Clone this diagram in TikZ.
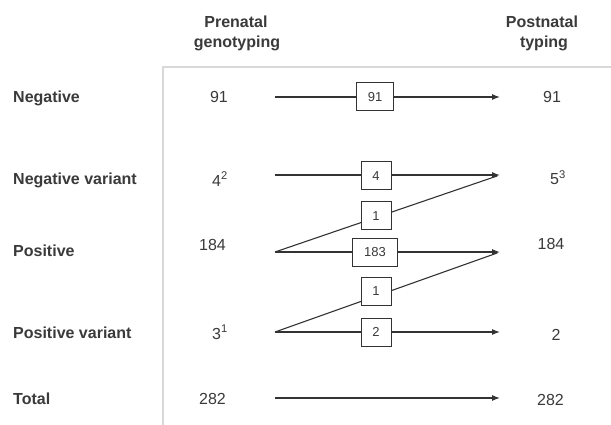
\documentclass[tikz,border=0pt]{standalone}
\usepackage{fontspec}
\setmainfont{Liberation Sans}
\usetikzlibrary{arrows.meta}
\definecolor{txt}{HTML}{3A3A3A}
\definecolor{ln}{HTML}{333333}
\definecolor{framec}{HTML}{D8D8D8}
\begin{document}
\begin{tikzpicture}[x=1pt,y=-1pt,
  lbl/.style={font=\fontsize{16}{20}\selectfont\bfseries, text=txt, anchor=base west, inner sep=0pt},
  hdr/.style={font=\fontsize{16}{20}\selectfont\bfseries, text=txt, anchor=base, inner sep=0pt},
  num/.style={font=\fontsize{16}{20}\selectfont, text=txt, anchor=base, inner sep=0pt},
  lnum/.style={num, anchor=base east},
  cnt/.style={draw=ln, fill=white, font=\fontsize{13}{15}\selectfont, text=txt,
              minimum width=30pt, minimum height=28pt, inner sep=2pt, line width=1pt},
  flow/.style={draw=ln, line width=1.1pt, -{Latex[length=8pt,width=6pt]}},
  link/.style={draw=ln, line width=1.1pt, shorten >=3pt}]
\useasboundingbox (0,0) rectangle (611,425);
\fill[white] (0,0) rectangle (611,425);

% frame
\draw[framec, line width=1.5pt] (611,67) -- (163,67) -- (163,425);

% headers
\node[hdr] (h1a) at (236,28) {Prenatal};
\node[hdr] (h1b) at (237,48) {genotyping};
\node[hdr] (h2a) at (542,28) {Postnatal};
\node[hdr] (h2b) at (544,48) {typing};

% row labels
\node[lbl] (r1) at (13,103) {Negative};
\node[lbl] (r2) at (13,185) {Negative variant};
\node[lbl] (r3) at (13,256) {Positive};
\node[lbl] (r4) at (13,338) {Positive variant};
\node[lbl] (r5) at (13,404) {Total};

% prenatal numbers
\node[lnum] (p1) at (228,103) {91};
\node[lnum] (p2) at (228,186) {4\textsuperscript{2}};
\node[lnum] (p3) at (226,251) {184};
\node[lnum] (p4) at (228,339) {3\textsuperscript{1}};
\node[lnum] (p5) at (226,404) {282};

% postnatal numbers
\node[num] (q1) at (552,103) {91};
\node[num, anchor=base west] (q2) at (550,185) {5\textsuperscript{3}};
\node[num] (q3) at (551,249) {184};
\node[num] (q4) at (556,340) {2};
\node[num] (q5) at (550.5,405) {282};

% connector end points
\coordinate (s1) at (275,97);  \coordinate (e1) at (500,97);
\coordinate (s2) at (275,175); \coordinate (e2) at (500,175);
\coordinate (s3) at (275,252); \coordinate (e3) at (500,252);
\coordinate (s4) at (275,332); \coordinate (e4) at (500,332);
\coordinate (s5) at (275,398); \coordinate (e5) at (500,398);

% connectors
\draw[flow] (s1) -- (e1);
\draw[flow] (s2) -- (e2);
\draw[flow] (s3) -- (e3);
\draw[flow] (s4) -- (e4);
\draw[flow] (s5) -- (e5);
\draw[link] (s3) -- (e2);
\draw[link] (s4) -- (e3);

% count boxes
\node[cnt, minimum width=37pt] (b1) at (375,97) {91};
\node[cnt] (b2) at (376,176) {4};
\node[cnt] (b3) at (376,216) {1};
\node[cnt, minimum width=45pt] (b4) at (375,252) {183};
\node[cnt] (b5) at (376,291) {1};
\node[cnt] (b6) at (376,332) {2};
\end{tikzpicture}
\end{document}
